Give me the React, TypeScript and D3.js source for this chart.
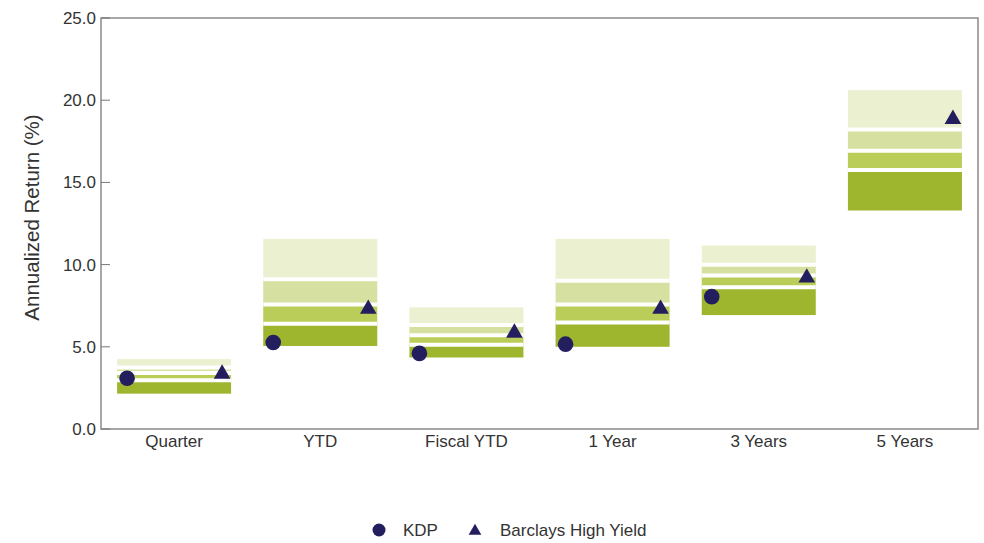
import React from "react";
import * as d3 from "d3";

const categories = ["Quarter", "YTD", "Fiscal YTD", "1 Year", "3 Years", "5 Years"];
// Universe percentile bands (top = 5th percentile return, bottom = 95th)
const p5 = [4.25, 11.56, 7.4, 11.56, 11.16, 20.61];
const p25 = [3.74, 9.11, 6.33, 9.02, 9.99, 18.22];
const median = [3.41, 7.58, 5.7, 7.57, 9.33, 16.92];
const p75 = [2.97, 6.4, 5.12, 6.48, 8.62, 15.76];
const p95 = [2.15, 5.05, 4.35, 5.0, 6.93, 13.29];
const kdp: (number | null)[] = [3.09, 5.26, 4.6, 5.16, 8.05, null];
const barclays = [3.35, 7.3, 5.85, 7.3, 9.2, 18.85];
const yTicks = [0, 5, 10, 15, 20, 25];
const seriesNames = ["KDP", "Barclays High Yield"];

const W = 984;
const H = 543;
const M = { left: 101, right: 6, top: 18, bottom: 114 };
const bandColors = ["#ebf0d0", "#d6e0a0", "#bacd58", "#9db62e"];
const markerColor = "#231f5e";
const font = "'Liberation Sans', Arial, sans-serif";

export default function App() {
  const x = d3
    .scaleBand<string>()
    .domain(categories)
    .range([M.left, W - M.right])
    .paddingInner(0.22)
    .paddingOuter(0.11);
  const y = d3.scaleLinear().domain([0, 25]).range([H - M.bottom, M.top]);
  const bw = x.bandwidth();
  const tri = d3.symbol().type(d3.symbolTriangle).size(120)() as string;
  const triLegend = d3.symbol().type(d3.symbolTriangle).size(70)() as string;

  const bounds = categories.map((_, i) => [p5[i], p25[i], median[i], p75[i], p95[i]]);

  return (
    <svg width={W} height={H} style={{ position: "absolute", left: 0, top: 0, background: "#fff" }}>
      {/* bands */}
      {categories.map((c, i) => {
        const b = bounds[i];
        const x0 = x(c)!;
        return (
          <g key={c}>
            {[0, 1, 2, 3].map((k) => (
              <rect
                key={k}
                x={x0}
                y={y(b[k])}
                width={bw}
                height={y(b[k + 1]) - y(b[k])}
                fill={bandColors[k]}
              />
            ))}
            {[1, 2, 3].map((k) => (
              <line
                key={"s" + k}
                x1={x0}
                x2={x0 + bw}
                y1={y(b[k])}
                y2={y(b[k])}
                stroke="#fff"
                strokeWidth={4}
              />
            ))}
          </g>
        );
      })}
      {/* frame */}
      <rect
        x={M.left}
        y={M.top}
        width={W - M.right - M.left}
        height={H - M.bottom - M.top}
        fill="none"
        stroke="#8a8a8a"
        strokeWidth={1.5}
      />
      {/* y ticks */}
      {yTicks.map((t) => (
        <g key={t}>
          <line x1={M.left} x2={M.left + 9} y1={y(t)} y2={y(t)} stroke="#777" strokeWidth={1} />
          <text
            x={M.left - 5}
            y={y(t)}
            dy="0.35em"
            textAnchor="end"
            fontFamily={font}
            fontSize={17}
            fill="#333"
          >
            {t.toFixed(1)}
          </text>
        </g>
      ))}
      <text
        transform={`translate(39,${(M.top + H - M.bottom) / 2 - 6}) rotate(-90)`}
        textAnchor="middle"
        fontFamily={font}
        fontSize={20.5}
        fill="#333"
      >
        Annualized Return (%)
      </text>
      {/* x labels */}
      {categories.map((c) => (
        <text
          key={c}
          x={x(c)! + bw / 2}
          y={H - M.bottom + 18}
          textAnchor="middle"
          fontFamily={font}
          fontSize={17}
          fill="#333"
        >
          {c}
        </text>
      ))}
      {/* markers */}
      {categories.map((c, i) =>
        kdp[i] == null ? null : (
          <circle key={"k" + c} cx={x(c)! + 10} cy={y(kdp[i] as number)} r={7.8} fill={markerColor} />
        )
      )}
      {categories.map((c, i) => (
        <path
          key={"b" + c}
          d={tri}
          transform={`translate(${x(c)! + bw - 9},${y(barclays[i])})`}
          fill={markerColor}
        />
      ))}
      {/* legend */}
      <circle cx={379} cy={530} r={6.5} fill={markerColor} />
      <text x={403} y={530} dy="0.35em" fontFamily={font} fontSize={17} fill="#333">
        {seriesNames[0]}
      </text>
      <path d={triLegend} transform="translate(475,531)" fill={markerColor} />
      <text x={500} y={530} dy="0.35em" fontFamily={font} fontSize={17} fill="#333">
        {seriesNames[1]}
      </text>
    </svg>
  );
}
